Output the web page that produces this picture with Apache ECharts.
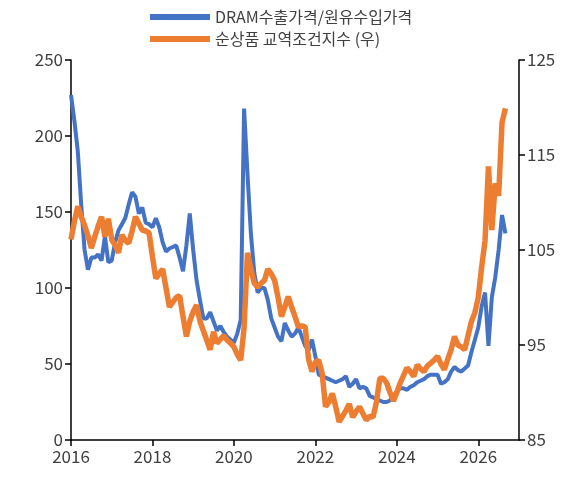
<!DOCTYPE html><html><head><meta charset="utf-8"><script src="https://cdn.jsdelivr.net/npm/echarts@6/dist/echarts.min.js"></script></head><body style="margin:0"><div id="c" style="width:585px;height:484px"></div><script>
const years=[2016,2017,2018,2019,2020,2021,2022,2023,2024,2025,2026];
const dram=[227,210,190,155,125,112,120,120,122,118,134,117,
118,130,138,142,146,155,163,160,149,153,143,142,
140,146,140,130,124,126,127,128,120,111,128,149,
125,105,92,80,80,84,78,72,75,71,68,66,
64,70,79,218,175,136,110,97,100,100,92,80,
74,68,65,77,72,68,70,74,68,62,59,66,
55,43,42,41,40,39,38,39,40,42,35,37,
40,34,35,34,29,28,27,26,25,25,26,29,
32,34,34,33,35,36,38,39,40,42,43,43,
43,37,38,40,45,48,46,45,47,49,58,66,
74,88,97,62,94,107,125,148,136];
const tot=[106.1,108,109.6,108.5,107.6,106.5,105.2,106.4,107.5,108.5,106.4,108.3,
106.1,105.5,104.7,106.6,106,105.7,107,108.5,107.8,107.1,107,106.8,
104.3,102,102.5,103,101,99,99.5,100,100.2,98,95.9,97.5,
98.5,99.2,97.5,96.5,95.5,94.5,96.4,95.2,95.6,96,95.5,95.2,
94.8,94,93.4,96.8,104.7,103,101.5,101.1,101.5,101.8,103,102.5,
101.8,100,98,99,100.1,99,98,96.9,97,96.9,93.5,92.2,
93.2,93.4,92,88.5,89,89.9,88.5,86.9,87.5,88.1,88.8,87.4,
88,88.5,87.8,87.1,87.5,87.4,89,91.5,91.5,91,90,89.1,
90,91,91.8,92.6,92.2,91.7,92.9,92.5,92.2,92.8,93.1,93.4,
93.8,93,92.4,93.5,94.5,95.9,95,94.8,94.5,96,97.5,98.4,
100,103.2,106,113.8,107.1,112,110.7,118.4,119.9];
const cats=[];years.forEach(y=>{for(let m=1;m<=12;m++)cats.push(y+'-'+m);});cats.push('2027-1');
const f='"Noto Sans CJK KR", sans-serif';
const ax={axisLine:{show:true,lineStyle:{color:'#000',width:1.5}},axisTick:{show:true,length:6,lineStyle:{color:'#000',width:1.5}},splitLine:{show:false},axisLabel:{color:'#404040',fontSize:17,fontFamily:f}};
echarts.init(document.getElementById('c')).setOption({animation:false,
legend:{orient:'vertical',left:145,top:4,itemGap:6,itemWidth:60,itemHeight:6,textStyle:{fontSize:16,fontFamily:f,color:'#404040'},icon:'rect'},
grid:{left:71,right:66,top:60,bottom:44},
xAxis:{type:'category',data:cats,boundaryGap:false,...ax,axisTick:{...ax.axisTick,interval:23},axisLabel:{...ax.axisLabel,interval:23,formatter:v=>v.split('-')[0]}},
yAxis:[{type:'value',min:0,max:250,interval:50,...ax},{type:'value',min:85,max:125,interval:10,...ax}],
series:[{name:'DRAM수출가격/원유수입가격',type:'line',data:dram,showSymbol:false,lineStyle:{width:4,color:'#4472C4'},itemStyle:{color:'#4472C4'}},
{name:'순상품 교역조건지수 (우)',type:'line',yAxisIndex:1,data:tot,showSymbol:false,lineStyle:{width:5.5,color:'#ED7D31'},itemStyle:{color:'#ED7D31'}}]});
</script></body></html>
